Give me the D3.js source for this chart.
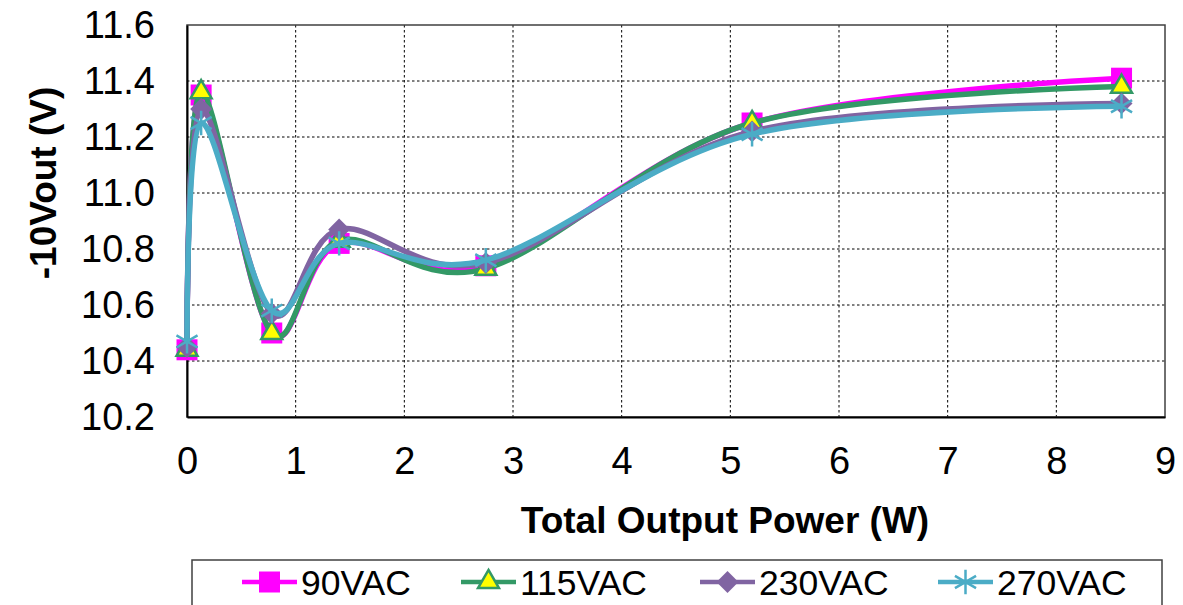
<!DOCTYPE html>
<html>
<head>
    <meta charset="UTF-8">
    <title></title>
    <style>
        body { margin: 0; background: #fff; font-family: 'Liberation Sans', Arial, sans-serif; }
        .grid line { stroke: #000; stroke-width: 1; stroke-dasharray: 2.5,2.5; }
        .tick text { font-size: 38px; fill: #000; }
        .title { font-size: 37px; font-weight: bold; fill: #000; }
        .legend text { font-size: 35.5px; fill: #000; }
        .series path.line { fill: none; stroke-width: 5.5; }
    </style>
</head>
<body>
    <script src="https://d3js.org/d3.v7.min.js"></script>
    <script>
        /// data
        var xPower = [0, 0.13, 0.78, 1.4, 2.75, 5.2, 8.6];
        var vout90 = [10.44, 11.35, 10.50, 10.82, 10.74, 11.25, 11.41];
        var vout115 = [10.44, 11.36, 10.50, 10.83, 10.73, 11.25, 11.38];
        var vout230 = [10.45, 11.30, 10.57, 10.87, 10.75, 11.22, 11.32];
        var vout270 = [10.47, 11.25, 10.58, 10.82, 10.76, 11.21, 11.31];
        var seriesNames = ["90VAC", "115VAC", "230VAC", "270VAC"];
        var xTicks = [0, 1, 2, 3, 4, 5, 6, 7, 8, 9];
        var yTicks = [10.2, 10.4, 10.6, 10.8, 11.0, 11.2, 11.4, 11.6];

        var width = 1183, height = 605;
        var plot = {left: 187, top: 25, right: 1165, bottom: 417};

        var svg = d3.select("body").append("svg")
            .attr("width", width)
            .attr("height", height);

        var x = d3.scaleLinear().domain([0, 9]).range([plot.left, plot.right]);
        var y = d3.scaleLinear().domain([10.2, 11.6]).range([plot.bottom, plot.top]);

        // grid
        var grid = svg.append("g").attr("class", "grid");
        grid.selectAll("line.v")
            .data(xTicks.slice(1, -1))
            .enter().append("line")
            .attr("class", "v")
            .attr("x1", function(d) { return x(d); })
            .attr("x2", function(d) { return x(d); })
            .attr("y1", plot.top).attr("y2", plot.bottom);
        grid.selectAll("line.h")
            .data(yTicks.slice(1, -1))
            .enter().append("line")
            .attr("class", "h")
            .attr("y1", function(d) { return y(d); })
            .attr("y2", function(d) { return y(d); })
            .attr("x1", plot.left).attr("x2", plot.right);

        // frame
        svg.append("rect")
            .attr("x", plot.left).attr("y", plot.top)
            .attr("width", plot.right - plot.left)
            .attr("height", plot.bottom - plot.top)
            .attr("fill", "none")
            .attr("stroke", "#404040")
            .attr("stroke-width", 1.5);

        // axes
        var xAxis = d3.axisBottom(x).tickValues(xTicks).tickSize(0).tickPadding(30)
            .tickFormat(d3.format("d"));
        svg.append("g")
            .attr("transform", "translate(0," + plot.bottom + ")")
            .call(xAxis)
            .call(function(g) { g.select(".domain").attr("stroke", "#000").attr("stroke-width", 2); })
            .selectAll("text").attr("font-family", null);

        var yAxis = d3.axisLeft(y).tickValues(yTicks).tickSize(0).tickPadding(32)
            .tickFormat(d3.format(".1f"));
        svg.append("g")
            .attr("transform", "translate(" + plot.left + ",0)")
            .call(yAxis)
            .call(function(g) { g.select(".domain").attr("stroke", "#000").attr("stroke-width", 2); })
            .selectAll("text").attr("font-family", null);
        svg.selectAll(".tick text").attr("font-size", null);

        // axis titles
        svg.append("text")
            .attr("class", "title")
            .attr("x", 725).attr("y", 533)
            .attr("text-anchor", "middle")
            .text("Total Output Power (W)");
        svg.append("text")
            .attr("class", "title")
            .attr("transform", "translate(56,183) rotate(-90)")
            .attr("text-anchor", "middle")
            .text("-10Vout (V)");

        // series
        var series = [
            {name: seriesNames[0], values: vout90, color: "#FF00FF", marker: "square"},
            {name: seriesNames[1], values: vout115, color: "#339966", marker: "triangle"},
            {name: seriesNames[2], values: vout230, color: "#8064A2", marker: "diamond"},
            {name: seriesNames[3], values: vout270, color: "#4BACC6", marker: "star"}
        ];

        var line = d3.line()
            .x(function(d) { return x(d[0]); })
            .y(function(d) { return y(d[1]); })
            .curve(d3.curveCardinal.tension(0));

        function drawMarker(sel, s) {
            if (s.marker == "square") {
                sel.append("path").attr("d", d3.symbol(d3.symbolSquare, 441)())
                    .attr("fill", s.color);
            } else if (s.marker == "triangle") {
                sel.append("path").attr("d", d3.symbol(d3.symbolTriangle, 190)())
                    .attr("fill", "#FFFF00").attr("stroke", s.color).attr("stroke-width", 2.5);
            } else if (s.marker == "diamond") {
                sel.append("path").attr("d", d3.symbol(d3.symbolSquare, 240)())
                    .attr("transform", "rotate(45)")
                    .attr("fill", s.color);
            } else {
                sel.append("path").attr("d", d3.symbol(d3.symbolAsterisk, 420)())
                    .attr("fill", "none").attr("stroke", s.color).attr("stroke-width", 2.5);
            }
        }

        var plotArea = svg.append("g");
        series.forEach(function(s) {
            var pts = xPower.map(function(px, i) { return [px, s.values[i]]; });
            var g = plotArea.append("g").attr("class", "series");
            g.append("path")
                .attr("class", "line")
                .attr("d", line(pts))
                .attr("stroke", s.color);
            g.selectAll("g.mk")
                .data(pts)
                .enter().append("g")
                .attr("class", "mk")
                .attr("transform", function(d) { return "translate(" + x(d[0]) + "," + y(d[1]) + ")"; })
                .each(function() { drawMarker(d3.select(this), s); });
        });

        // legend
        var legend = svg.append("g").attr("class", "legend");
        legend.append("rect")
            .attr("x", 192).attr("y", 560)
            .attr("width", 970).attr("height", 60)
            .attr("fill", "#fff")
            .attr("stroke", "#404040")
            .attr("stroke-width", 1.5);
        var legendX = [242, 461, 700, 938];
        series.forEach(function(s, i) {
            var item = legend.append("g").attr("transform", "translate(" + legendX[i] + ",582)");
            item.append("line")
                .attr("x1", 0).attr("x2", 55)
                .attr("stroke", s.color).attr("stroke-width", 4.5);
            var mk = item.append("g").attr("transform", "translate(27.5,0)");
            drawMarker(mk, s);
            item.append("text")
                .attr("x", 59).attr("y", 13)
                .text(s.name);
        });
    </script>
</body>
</html>
